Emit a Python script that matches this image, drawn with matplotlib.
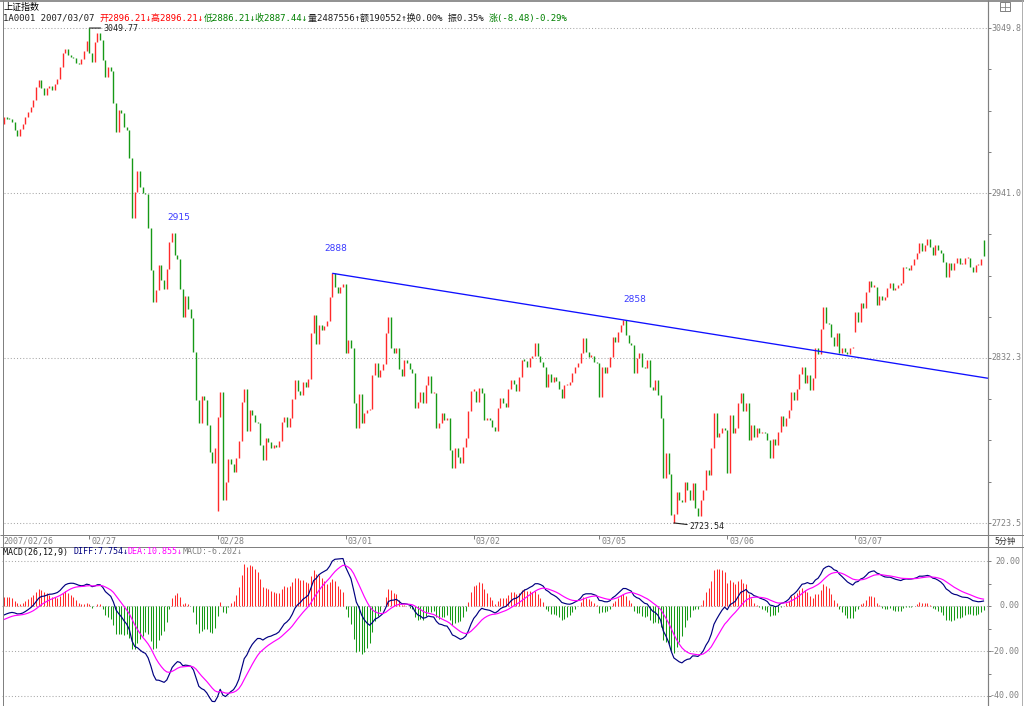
import numpy as np
import matplotlib
matplotlib.use('Agg')
import matplotlib.pyplot as plt
from matplotlib.lines import Line2D
from matplotlib.patches import Rectangle

# ---------------- data (5-minute closes) ----------------
close_0226 = [2991.4, 2990.1, 2989.8, 2988.1, 2982.6, 2978.9, 2983.3, 2986.6, 2991.4, 2994.5,
              2997.5, 3002.4, 3011.2, 3015.6, 3010.5, 3005.4, 3010.1, 3011.6, 3009.0, 3012.9,
              3016.0, 3024.3, 3033.1, 3036.0, 3031.8, 3030.9, 3029.8, 3027.0, 3026.1, 3029.2,
              3034.7, 3041.5]
close_0227 = [3033.6, 3027.6, 3040.4, 3046.3, 3041.9, 3028.7, 3017.3, 3024.3, 3021.7, 3000.6,
              2981.5, 2995.8, 2993.6, 2984.4, 2982.6, 2963.9, 2924.4, 2942.0, 2955.8, 2945.3,
              2941.3, 2940.4, 2917.8, 2890.3, 2869.5, 2877.1, 2893.6, 2883.7, 2877.6, 2890.8,
              2909.0, 2914.9, 2900.2, 2897.4, 2877.6, 2859.6, 2873.2, 2864.8, 2858.9, 2836.5,
              2804.6, 2789.3, 2807.3, 2804.6, 2788.2, 2770.6, 2762.9, 2772.8]
close_0228 = [2793.7, 2810.1, 2738.7, 2750.8, 2765.5, 2762.2, 2756.8, 2766.2, 2777.8, 2803.5,
              2811.7, 2784.4, 2798.0, 2794.8, 2790.4, 2789.3, 2775.0, 2764.7, 2779.4, 2777.2,
              2772.8, 2775.0, 2773.4, 2777.8, 2790.4, 2793.2, 2786.6, 2792.6, 2805.1, 2817.8,
              2810.8, 2807.9, 2816.7, 2813.4, 2818.3, 2848.6, 2860.7, 2841.6, 2854.1, 2850.8,
              2853.4, 2856.9, 2872.7, 2888.1, 2878.9, 2875.4, 2879.3, 2881.1]
close_0301 = [2835.8, 2844.2, 2838.7, 2802.4, 2786.0, 2808.6, 2789.7, 2795.9, 2798.1, 2798.5,
              2821.1, 2828.8, 2819.6, 2824.4, 2828.4, 2848.6, 2859.1, 2838.7, 2835.4, 2838.7,
              2824.9, 2820.5, 2831.0, 2828.8, 2824.9, 2822.2, 2799.2, 2803.5, 2810.1, 2802.9,
              2814.5, 2820.5, 2809.0, 2809.5, 2786.0, 2789.3, 2796.3, 2791.5, 2792.6, 2771.7,
              2759.6, 2772.8, 2767.3, 2762.9, 2773.9, 2779.4, 2797.6, 2810.8]
close_0302 = [2810.8, 2803.5, 2812.3, 2809.0, 2791.5, 2792.6, 2791.5, 2786.6, 2784.4, 2799.2,
              2805.7, 2802.4, 2800.2, 2811.7, 2817.8, 2815.2, 2810.8, 2819.6, 2831.0, 2830.6,
              2826.6, 2832.1, 2833.6, 2842.0, 2833.6, 2829.9, 2826.6, 2813.0, 2821.8, 2816.7,
              2820.0, 2817.4, 2811.7, 2805.7, 2814.5, 2814.5, 2816.7, 2822.2, 2826.6, 2828.8,
              2835.4, 2845.3, 2836.5, 2833.2, 2833.6, 2829.9, 2828.8]
close_0305 = [2806.8, 2826.6, 2822.7, 2826.6, 2832.8, 2845.9, 2843.1, 2849.7, 2854.1, 2857.4,
              2847.5, 2842.0, 2840.9, 2822.7, 2832.1, 2835.8, 2826.6, 2825.5, 2831.0, 2813.4,
              2811.2, 2817.8, 2807.9, 2792.6, 2753.0, 2769.5, 2755.9, 2728.9, 2729.5, 2744.2,
              2738.7, 2737.6, 2750.8, 2745.3, 2738.7, 2749.7, 2733.2, 2727.8, 2738.7, 2745.3,
              2758.5, 2755.2, 2772.8, 2795.9, 2780.5, 2782.7, 2786.0, 2784.9]
close_0306 = [2756.3, 2794.8, 2782.7, 2786.0, 2802.4, 2809.0, 2797.0, 2802.4, 2778.3, 2788.2,
              2780.5, 2786.0, 2782.7, 2783.1, 2782.7, 2778.3, 2766.2, 2778.7, 2775.0, 2783.8,
              2794.1, 2787.5, 2792.6, 2798.1, 2810.1, 2804.6, 2811.7, 2821.8, 2826.6, 2815.6,
              2821.1, 2811.2, 2818.9, 2838.7, 2835.0, 2851.2, 2865.7, 2855.2, 2854.7, 2846.4,
              2840.2, 2848.6, 2835.4, 2838.7, 2836.5, 2835.0, 2838.7, 2839.4]
close_0307 = [2862.9, 2856.3, 2868.4, 2865.1, 2876.0, 2883.3, 2879.3, 2879.3, 2867.3, 2873.2,
              2870.6, 2872.7, 2878.2, 2881.5, 2877.1, 2878.2, 2880.4, 2881.5, 2892.5, 2891.4,
              2890.3, 2893.6, 2897.4, 2901.3, 2908.3, 2903.1, 2906.8, 2910.5, 2905.7, 2900.2,
              2906.8, 2903.5, 2901.3, 2895.8, 2885.5, 2894.7, 2890.3, 2894.7, 2898.0, 2894.3,
              2894.3, 2898.0, 2898.0, 2892.5, 2889.2, 2893.6, 2893.6, 2897.4, 2899.6]
first_open = 2986.6
open_gaps = {32: 3049.77, 80: 2731.7, 251: 2723.54, 319: 2849.7, 367: 2910.1}

day_closes = [close_0226, close_0227, close_0228, close_0301, close_0302, close_0305, close_0306, close_0307]
day_labels = ['2007/02/26', '02/27', '02/28', '03/01', '03/02', '03/05', '03/06', '03/07']

peak_idx = [63, 123, 232]
peak_labels = ['2915', '2888', '2858']
trend_pts = [(123, 2888.1), (232, 2857.4)]
high_label = (32, 3049.77, '3049.77')
low_label = (251, 2723.54, '2723.54')

main_ticks = [3049.8, 2941.0, 2832.3, 2723.5]
macd_ticks = [20.0, 0.0, -20.0, -40.0]
diff_start, dea_start = -4.0, -6.0

# ---------------- build series ----------------
close = np.array(sum(day_closes, []), dtype=float)
n = len(close)
x = np.arange(n)
opens = np.r_[first_open, close[:-1]]
for k, v in open_gaps.items():
    opens[k] = v
hi = np.maximum(opens, close)
lo = np.minimum(opens, close)
hi = np.maximum(hi, lo + 0.8)
up = close >= opens

def ema_series(vals, span, first):
    a = 2.0 / (span + 1)
    out = np.empty(len(vals))
    out[0] = first
    for i in range(1, len(vals)):
        out[i] = a * vals[i] + (1 - a) * out[i - 1]
    return out

ema_fast = ema_series(close, 12, close[0] + diff_start)
ema_slow = ema_series(close, 26, close[0])
diff = ema_fast - ema_slow
dea = ema_series(diff, 9, dea_start)
hist = 2 * (diff - dea)

# ---------------- figure ----------------
W, H = 1024, 706
fig = plt.figure(figsize=(W / 100, H / 100), dpi=100)
fig.patch.set_facecolor('white')

def fx(px): return px / W
def fy(py): return 1 - py / H

def pline(x0, y0, x1, y1, color='#808080', lw=1.0, ls='-'):
    fig.add_artist(Line2D([fx(x0), fx(x1)], [fy(y0), fy(y1)], transform=fig.transFigure,
                          color=color, lw=lw * 0.72, ls=ls, solid_capstyle='butt'))

MONO = ['DejaVu Sans Mono', 'Noto Sans CJK SC']
RED, GREEN = '#ff2a2a', '#169916'
GRAY = '#808080'

BAR0, DX = 4.0, 2.669
AX_L, AX_R = 2, 988
xlim = ((AX_L - BAR0) / DX, (AX_R - BAR0) / DX)
PPP = (main_ticks[0] - main_ticks[-1]) / (523 - 28)

# main panel
ax = fig.add_axes([fx(AX_L), fy(535), fx(AX_R) - fx(AX_L), fy(24) - fy(535)])
ax.set_xlim(*xlim)
ax.set_ylim(main_ticks[-1] - (535 - 523) * PPP, main_ticks[0] + (28 - 24) * PPP)
ax.set_axis_off()
for v in main_ticks:
    ax.axhline(v, color='#a8a8a8', lw=0.75, ls=(0, (1, 2)), xmin=0.002, xmax=1.0)
ax.vlines(x[up], lo[up], hi[up], color=RED, lw=1.0)
ax.vlines(x[~up], lo[~up], hi[~up], color=GREEN, lw=1.0)

# trend line
(tx0, ty0), (tx1, ty1) = trend_pts
slope = (ty1 - ty0) / (tx1 - tx0)
ax.plot([tx0, xlim[1]], [ty0, ty0 + slope * (xlim[1] - tx0)], color='#1010ff', lw=0.95,
        solid_capstyle='butt')

label_offsets = [(7, 15), (4, 25), (12, 20)]
for i, lab, off in zip(peak_idx, peak_labels, label_offsets):
    ax.annotate(lab, xy=(i, close[i]), xytext=off, textcoords='offset pixels',
                ha='center', va='center', color='#3a3aff', fontsize=6.5, family='DejaVu Sans')

ax.annotate(high_label[2], xy=(high_label[0], high_label[1]), xytext=(14, 0),
            textcoords='offset pixels', ha='left', va='center', color='#202020',
            fontsize=6, family=MONO,
            arrowprops=dict(arrowstyle='-', color='#202020', lw=0.8, shrinkA=0, shrinkB=0))
ax.annotate(low_label[2], xy=(low_label[0], low_label[1]), xytext=(16, -4),
            textcoords='offset pixels', ha='left', va='center', color='#202020',
            fontsize=6, family=MONO,
            arrowprops=dict(arrowstyle='-', color='#202020', lw=0.8, shrinkA=0, shrinkB=0))

# MACD panel
mx = fig.add_axes([fx(AX_L), fy(706), fx(AX_R) - fx(AX_L), fy(547) - fy(706)])
mx.set_xlim(*xlim)
mx.set_ylim(-(706 - 606) / 2.25, (606 - 547) / 2.25)
mx.set_axis_off()
for v in macd_ticks:
    mx.axhline(v, color='#a8a8a8', lw=0.75, ls=(0, (1, 2)))
hcol = np.where(hist >= 0, RED, GREEN)
mx.vlines(x, 0, hist, colors=hcol, lw=0.75)
mx.plot(x, diff, color='#000080', lw=0.85)
mx.plot(x, dea, color='#ff00ff', lw=0.85)

# ---------------- frame lines ----------------
pline(0, 0.5, W, 0.5, color='#707070', lw=1.5)
pline(2.5, 0, 2.5, H, color=GRAY, lw=1)
pline(AX_R, 0, AX_R, H, color=GRAY, lw=1.2)
pline(1021.5, 0, 1021.5, H, color='#b0b0b0', lw=1)
pline(0, 535, W, 535, color=GRAY, lw=1)
pline(0, 546.5, W, 546.5, color=GRAY, lw=1)

# right axis ticks and labels
tr_main = ax.transData
for v in main_ticks:
    py = H - tr_main.transform((0, v))[1]
    pline(AX_R, py, AX_R + 3, py, color=GRAY)
    fig.text(fx(1021), fy(py), f'{v:.1f}', ha='right', va='center', color=GRAY,
             fontsize=6, family=MONO)
for k in range(len(main_ticks) - 1):
    for q in (1, 2, 3):
        v = main_ticks[k] + (main_ticks[k + 1] - main_ticks[k]) * q / 4
        py = H - tr_main.transform((0, v))[1]
        pline(AX_R, py, AX_R + 3, py, color=GRAY)
tr_m = mx.transData
for v in macd_ticks:
    py = H - tr_m.transform((0, v))[1]
    pline(AX_R, py, AX_R + 3, py, color=GRAY)
    fig.text(fx(1020), fy(py), f'{v:.2f}', ha='right', va='center', color=GRAY,
             fontsize=6, family=MONO)
for k in range(len(macd_ticks) - 1):
    v = (macd_ticks[k] + macd_ticks[k + 1]) / 2
    py = H - tr_m.transform((0, v))[1]
    pline(AX_R, py, AX_R + 3, py, color=GRAY)

# date axis
starts = np.cumsum([0] + [len(d) for d in day_closes[:-1]])
fig.text(fx(3), fy(541), day_labels[0], ha='left', va='center', color=GRAY,
         fontsize=6, family=MONO)
for s, lab in zip(starts[1:], day_labels[1:]):
    px = ax.transData.transform((s, 0))[0]
    pline(px, 535, px, 539, color=GRAY)
    fig.text(fx(px + 2), fy(541), lab, ha='left', va='center', color=GRAY,
             fontsize=6, family=MONO)
fig.text(fx(1005), fy(541), '5分钟', ha='center', va='center', color='#303030',
         fontsize=6, family=['Noto Sans CJK SC', 'DejaVu Sans'])

# top-right icon
fig.add_artist(Rectangle((fx(1000), fy(11)), fx(10), 9 / H, transform=fig.transFigure,
                         fill=False, edgecolor=GRAY, lw=0.7))
pline(1000, 6.5, 1010, 6.5, color=GRAY, lw=0.8)
pline(1005, 2, 1005, 11, color=GRAY, lw=0.8)

# ---------------- header texts ----------------
fig.canvas.draw()
renderer = fig.canvas.get_renderer()

def seq_text(x_px, y_px, segments, size):
    cx = x_px
    for s, c in segments:
        t = fig.text(fx(cx), fy(y_px), s, color=c, ha='left', va='center',
                     fontsize=size, family=MONO)
        cx += t.get_window_extent(renderer=renderer).width

fig.text(fx(3), fy(7), '上证指数', ha='left', va='center', color='black', fontsize=6.5,
         family=['Noto Sans CJK SC', 'DejaVu Sans'])
seq_text(3, 18, [('1A0001 2007/03/07 ', '#202020'),
                 ('开2896.21↓高2896.21↓', '#ff0000'),
                 ('低2886.21↓收2887.44↓', '#008000'),
                 ('量2487556↑额190552↑换0.00% 振0.35% ', '#202020'),
                 ('涨(-8.48)-0.29%', '#008000')], 6.5)
seq_text(3, 552, [('MACD(26,12,9) ', '#101010'),
                  ('DIFF:7.754↓', '#000080'),
                  ('DEA:10.855↓', '#ff00ff'),
                  ('MACD:-6.202↓', GRAY)], 6.0)

fig.savefig('out.png', dpi=100, facecolor='white')
